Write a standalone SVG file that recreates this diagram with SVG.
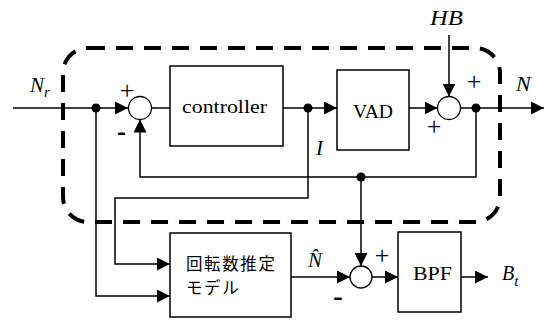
<svg xmlns="http://www.w3.org/2000/svg" width="545" height="320" viewBox="0 0 545 320">
<defs>
<marker id="ah" markerUnits="userSpaceOnUse" markerWidth="14" markerHeight="13" refX="13" refY="6.5" orient="auto">
<path d="M0,0 L13,6.5 L0,13 Z" fill="#000"/>
</marker>
<style>
.ln{fill:none;stroke:#000;stroke-width:1.5}
.ar{fill:none;stroke:#000;stroke-width:1.5;marker-end:url(#ah)}
.box{fill:#fff;stroke:#000;stroke-width:1.5}
.sum{fill:#fff;stroke:#000;stroke-width:1.3}
.dot{fill:#000}
.dash{fill:none;stroke:#000;stroke-width:4;stroke-dasharray:17 11}
.lbl{font-size:18px;fill:#000}
.math{font-style:italic;fill:#000}
.sign{font-size:26px;fill:#000;text-anchor:middle}
.neg{font-family:'Liberation Sans',sans-serif;font-weight:bold;font-size:20px;fill:#000}
.jp{font-family:'Noto Sans CJK JP',sans-serif;font-size:16.5px;letter-spacing:1.6px;fill:#000}
</style>
</defs>
<rect class="dash" x="63" y="48" width="437" height="174" rx="25" ry="25"/>
<g id="connectors">
<path class="ar" d="M13,108 H128"/>
<path class="ln" d="M151,108 H170"/>
<path class="ar" d="M283,108 H337"/>
<path class="ar" d="M409,108 H437.5"/>
<path class="ar" d="M449,35 V96.5"/>
<path class="ar" d="M460.5,108 H544"/>
<path class="ar" d="M476,108 V177 H140 V119.5"/>
<path class="ar" d="M361,177 V266"/>
<path class="ar" d="M308,108 V198 H115 V264 H170"/>
<path class="ar" d="M96,108 V296 H170"/>
<path class="ar" d="M291,277 H350"/>
<path class="ar" d="M372,277 H398"/>
<path class="ar" d="M461,277 H488"/>
<circle class="dot" cx="96" cy="108" r="4.5"/>
<circle class="dot" cx="308" cy="108" r="4.5"/>
<circle class="dot" cx="476" cy="108" r="4.5"/>
<circle class="dot" cx="361" cy="177" r="4.5"/>
</g>
<g id="sum1">
<circle class="sum" cx="140" cy="108" r="11.5"/>
<text class="sign" font-family="Liberation Serif, serif" x="127" y="99">+</text>
<text class="neg" x="117" y="139" textLength="9" lengthAdjust="spacingAndGlyphs">-</text>
</g>
<g id="controller">
<rect class="box" x="170" y="66" width="113" height="80"/>
<text class="lbl" font-family="Liberation Serif, serif" x="182" y="113" textLength="85" lengthAdjust="spacingAndGlyphs">controller</text>
</g>
<g id="vad">
<rect class="box" x="337" y="70" width="72" height="80"/>
<text class="lbl" font-family="Liberation Serif, serif" x="353" y="118" textLength="40" lengthAdjust="spacingAndGlyphs">VAD</text>
</g>
<g id="sum2">
<circle class="sum" cx="449" cy="108" r="11.5"/>
<text class="sign" font-family="Liberation Serif, serif" x="474" y="90">+</text>
<text class="sign" font-family="Liberation Serif, serif" x="434" y="135">+</text>
</g>
<g id="sum3">
<circle class="sum" cx="361" cy="277" r="11"/>
<text class="sign" font-family="Liberation Serif, serif" x="382" y="264">+</text>
<text class="neg" x="333" y="304" textLength="10" lengthAdjust="spacingAndGlyphs">-</text>
</g>
<g id="estimator">
<rect class="box" x="170" y="233" width="121" height="84"/>
<text class="jp" x="186" y="270">回転数推定</text>
<text class="jp" x="186" y="294">モデル</text>
</g>
<g id="bpf">
<rect class="box" x="398" y="232" width="63" height="80"/>
<text class="lbl" font-family="Liberation Serif, serif" x="413" y="280" textLength="39" lengthAdjust="spacingAndGlyphs">BPF</text>
</g>
<g id="labels">
<text class="math" font-family="Liberation Serif, serif" x="30" y="92" font-size="21">N<tspan font-size="15" dy="5">r</tspan></text>
<text class="math" font-family="Liberation Serif, serif" x="516" y="91" font-size="22">N</text>
<text class="math" font-family="Liberation Serif, serif" x="430" y="25" font-size="20" textLength="33" lengthAdjust="spacingAndGlyphs">HB</text>
<text class="math" font-family="Liberation Serif, serif" x="316" y="155" font-size="21">I</text>
<text class="math" font-family="Liberation Serif, serif" x="308" y="267" font-size="21">N̂</text>
<text class="math" font-family="Liberation Serif, serif" x="502" y="280" font-size="20">B<tspan font-size="15" dy="6">t</tspan></text>
</g>
</svg>
